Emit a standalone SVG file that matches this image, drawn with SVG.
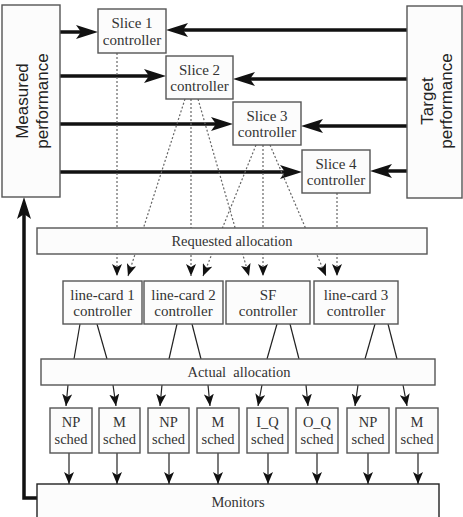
<svg xmlns="http://www.w3.org/2000/svg" width="463" height="517" viewBox="0 0 463 517">
<defs>
<marker id="big" markerUnits="userSpaceOnUse" markerWidth="22" markerHeight="14" refX="14" refY="7" orient="auto" viewBox="0 0 22 14">
<path d="M0,0 L22,7 L0,14 L5,7 z" fill="#111"/>
</marker>
<marker id="small" markerUnits="userSpaceOnUse" markerWidth="12" markerHeight="10" refX="12" refY="5" orient="auto" viewBox="0 0 12 10">
<path d="M0,0 L12,5 L0,10 L3,5 z" fill="#111"/>
</marker>
</defs>
<style>
.box{fill:#fcfcfc;stroke:#555;stroke-width:1.4}
.thick{stroke:#111;stroke-width:3.5;fill:none;marker-end:url(#big)}
.dot{stroke:#666;stroke-width:1.2;stroke-dasharray:2 2;fill:none;marker-end:url(#small)}
.thin{stroke:#222;stroke-width:1.2;fill:none}
.arr{stroke:#222;stroke-width:1.2;fill:none;marker-end:url(#small)}
.t{font-family:"Liberation Serif","Times New Roman",serif;font-size:15px;fill:#333;text-anchor:middle}
.ts{font-family:"Liberation Serif","Times New Roman",serif;font-size:14.5px;fill:#333;text-anchor:middle}
.sans{font-family:"Liberation Sans",Arial,sans-serif;font-size:17px;fill:#222;text-anchor:middle}
</style>

<g id="connectors">
<!-- measured -> slices -->
<line class="thick" x1="60" y1="32" x2="90" y2="32"/>
<line class="thick" x1="60" y1="76" x2="158" y2="76"/>
<line class="thick" x1="60" y1="124" x2="225" y2="124"/>
<line class="thick" x1="60" y1="172" x2="294" y2="172"/>
<!-- target -> slices -->
<line class="thick" x1="407" y1="30" x2="174" y2="30"/>
<line class="thick" x1="407" y1="79" x2="241" y2="79"/>
<line class="thick" x1="407" y1="126" x2="309" y2="126"/>
<line class="thick" x1="407" y1="171" x2="378" y2="171"/>
<!-- feedback -->
<path class="thick" d="M37,498 H24 V205"/>
<!-- dotted requests -->
<line class="dot" x1="117" y1="53" x2="117" y2="276"/>
<line class="dot" x1="185" y1="99" x2="128" y2="276"/>
<line class="dot" x1="191" y1="99" x2="191" y2="276"/>
<line class="dot" x1="198" y1="99" x2="249" y2="276"/>
<line class="dot" x1="256" y1="145" x2="203" y2="276"/>
<line class="dot" x1="263" y1="145" x2="263" y2="276"/>
<line class="dot" x1="270" y1="145" x2="326" y2="276"/>
<line class="dot" x1="337" y1="193" x2="337" y2="276"/>
<!-- controllers -> actual allocation -->
<line class="thin" x1="80" y1="324" x2="74" y2="359"/>
<line class="thin" x1="97" y1="324" x2="107" y2="359"/>
<line class="thin" x1="177" y1="324" x2="169" y2="359"/>
<line class="thin" x1="192" y1="324" x2="201" y2="359"/>
<line class="thin" x1="277" y1="324" x2="267" y2="359"/>
<line class="thin" x1="290" y1="324" x2="299" y2="359"/>
<line class="thin" x1="375" y1="324" x2="365" y2="359"/>
<line class="thin" x1="388" y1="324" x2="397" y2="359"/>
<!-- actual allocation -> schedulers -->
<line class="arr" x1="68" y1="385" x2="66" y2="406"/>
<line class="arr" x1="113" y1="385" x2="116" y2="406"/>
<line class="arr" x1="162" y1="385" x2="160" y2="406"/>
<line class="arr" x1="208" y1="385" x2="210" y2="406"/>
<line class="arr" x1="262" y1="385" x2="258" y2="406"/>
<line class="arr" x1="306" y1="385" x2="308" y2="406"/>
<line class="arr" x1="358" y1="385" x2="355" y2="406"/>
<line class="arr" x1="403" y1="385" x2="407" y2="406"/>
<!-- schedulers -> monitors -->
<line class="arr" x1="69" y1="453" x2="69" y2="484"/>
<line class="arr" x1="117" y1="453" x2="117" y2="484"/>
<line class="arr" x1="169" y1="453" x2="169" y2="484"/>
<line class="arr" x1="218" y1="453" x2="218" y2="484"/>
<line class="arr" x1="268" y1="453" x2="268" y2="484"/>
<line class="arr" x1="317" y1="453" x2="317" y2="484"/>
<line class="arr" x1="368" y1="453" x2="368" y2="484"/>
<line class="arr" x1="418" y1="453" x2="418" y2="484"/>
</g>

<g id="measured">
<rect class="box" x="2" y="5" width="58" height="192"/>
<text class="sans" transform="translate(28,101) rotate(-90)">Measured</text>
<text class="sans" transform="translate(48,101) rotate(-90)">performance</text>
</g>
<g id="target">
<rect class="box" x="407" y="6" width="55" height="192"/>
<text class="sans" transform="translate(433,101) rotate(-90)">Target</text>
<text class="sans" transform="translate(452,101) rotate(-90)">performance</text>
</g>

<g id="slice1"><rect class="box" x="98" y="9" width="68" height="44"/><text class="t" x="132" y="28">Slice 1</text><text class="t" x="132" y="44.5">controller</text></g>
<g id="slice2"><rect class="box" x="166" y="56" width="67" height="43"/><text class="t" x="199.5" y="75">Slice 2</text><text class="t" x="199.5" y="91">controller</text></g>
<g id="slice3"><rect class="box" x="233" y="102" width="68" height="43"/><text class="t" x="267" y="121">Slice 3</text><text class="t" x="267" y="137">controller</text></g>
<g id="slice4"><rect class="box" x="302" y="150" width="68" height="43"/><text class="t" x="336" y="169">Slice 4</text><text class="t" x="336" y="185">controller</text></g>

<g id="requested"><rect class="box" x="37" y="228" width="390" height="26"/><text class="ts" x="232" y="246">Requested allocation</text></g>

<g id="lc1"><rect class="box" x="63" y="281" width="79" height="43"/><text class="t" x="102.5" y="300">line-card 1</text><text class="t" x="102.5" y="316">controller</text></g>
<g id="lc2"><rect class="box" x="144" y="281" width="79" height="43"/><text class="t" x="183.5" y="300">line-card 2</text><text class="t" x="183.5" y="316">controller</text></g>
<g id="sf"><rect class="box" x="226" y="281" width="84" height="43"/><text class="t" x="268" y="300">SF</text><text class="t" x="268" y="316">controller</text></g>
<g id="lc3"><rect class="box" x="314" y="281" width="84" height="43"/><text class="t" x="356" y="300">line-card 3</text><text class="t" x="356" y="316">controller</text></g>

<g id="actual"><rect class="box" x="41" y="359" width="394" height="26"/><text class="ts" x="239" y="377" xml:space="preserve">Actual  allocation</text></g>

<g id="np1"><rect class="box" x="50" y="408" width="42" height="45"/><text class="ts" x="71" y="427">NP</text><text class="ts" x="71" y="444">sched</text></g>
<g id="m1"><rect class="box" x="99" y="408" width="41" height="45"/><text class="ts" x="119.5" y="427">M</text><text class="ts" x="119.5" y="444">sched</text></g>
<g id="np2"><rect class="box" x="148" y="408" width="41" height="45"/><text class="ts" x="168.5" y="427">NP</text><text class="ts" x="168.5" y="444">sched</text></g>
<g id="m2"><rect class="box" x="197" y="408" width="42" height="45"/><text class="ts" x="218" y="427">M</text><text class="ts" x="218" y="444">sched</text></g>
<g id="iq"><rect class="box" x="247" y="408" width="41" height="45"/><text class="ts" x="267.5" y="427">I_Q</text><text class="ts" x="267.5" y="444">sched</text></g>
<g id="oq"><rect class="box" x="296" y="408" width="42" height="45"/><text class="ts" x="317" y="427">O_Q</text><text class="ts" x="317" y="444">sched</text></g>
<g id="np3"><rect class="box" x="347" y="408" width="42" height="45"/><text class="ts" x="368" y="427">NP</text><text class="ts" x="368" y="444">sched</text></g>
<g id="m3"><rect class="box" x="396" y="408" width="42" height="45"/><text class="ts" x="417" y="427">M</text><text class="ts" x="417" y="444">sched</text></g>

<g id="monitors"><rect x="37" y="484" width="402" height="40" fill="#fcfcfc" stroke="#222" stroke-width="1.4"/><text class="ts" x="238" y="507">Monitors</text></g>
</svg>
